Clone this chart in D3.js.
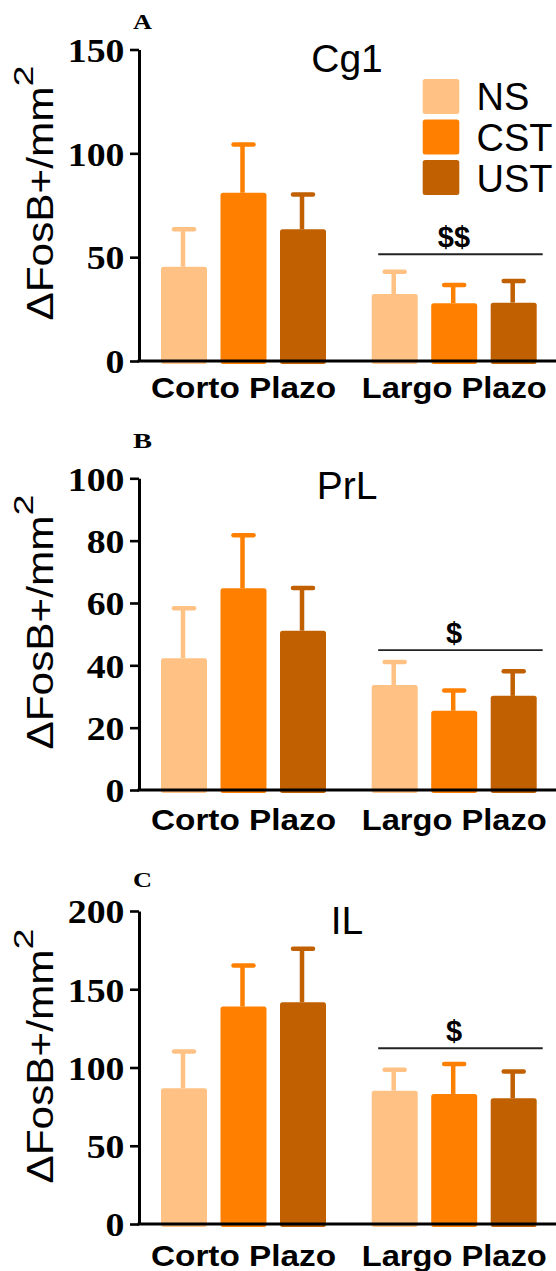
<!DOCTYPE html>
<html><head><meta charset="utf-8">
<script src="https://cdn.jsdelivr.net/npm/d3@7"></script>
<style>html,body{margin:0;padding:0;background:#fff;}svg{display:block;}</style>
</head><body>
<svg id="chart" width="556" height="1271"></svg>
<script>
// ---- data ----
const categories = ["Corto Plazo", "Largo Plazo"];
const series = ["NS", "CST", "UST"];
const regions = ["Cg1", "PrL", "IL"];
const panelLetters = ["A", "B", "C"];
const yMaxes = [150, 100, 200];
const tickValuesA = [0, 50, 100, 150];
const tickValuesB = [0, 20, 40, 60, 80, 100];
const tickValuesC = [0, 50, 100, 150, 200];
// means ordered: Corto NS, CST, UST, Largo NS, CST, UST
const cg1Means = [45.4, 81.0, 63.4, 32.3, 27.8, 28.1];
const cg1Errors = [18.0, 23.3, 16.8, 10.7, 8.8, 10.4];
const prlMeans = [42.3, 64.7, 51.1, 33.7, 25.4, 30.2];
const prlErrors = [16.0, 17.0, 13.7, 7.4, 6.5, 7.9];
const ilMeans = [86.7, 138.9, 141.7, 85.2, 83.1, 80.3];
const ilErrors = [23.5, 26.2, 34.1, 13.3, 19.2, 17.1];
const sigLabels = ["$$", "$", "$"];
const sigLevels = [51.4, 44.9, 112.3];

// ---- layout / style ----
const colors = {NS: "#FFC184", CST: "#FF8000", UST: "#C06000"};
const axisX = 139, plotRight = 556;
const panels = [
  {top: 49.5, bottom: 361, ticks: tickValuesA, means: cg1Means, errs: cg1Errors, letterY: 29, titleY: 72, xlabDy: 37},
  {top: 478.3, bottom: 790, ticks: tickValuesB, means: prlMeans, errs: prlErrors, letterY: 448, titleY: 499, xlabDy: 40},
  {top: 911, bottom: 1224, ticks: tickValuesC, means: ilMeans, errs: ilErrors, letterY: 887, titleY: 934, xlabDy: 42}
];

const svg = d3.select("#chart");
const x0 = d3.scaleBand().domain(categories).range([161, 161 + 2 * 210.7]).paddingInner(0).paddingOuter(0);
const x1 = d3.scaleBand().domain(series).range([0, 165]).paddingInner(0.227).paddingOuter(0);
const bw = x1.bandwidth();

panels.forEach((p, pi) => {
  const g = svg.append("g");
  const y = d3.scaleLinear().domain([0, yMaxes[pi]]).range([p.bottom, p.top]);
  const rows = [];
  categories.forEach((c, ci) => series.forEach((s, si) => {
    const k = ci * 3 + si;
    rows.push({cat: c, ser: s, mean: p.means[k], err: p.errs[k]});
  }));

  // bars
  g.selectAll("rect.bar").data(rows).join("rect")
    .attr("x", d => x0(d.cat) + x1(d.ser))
    .attr("y", d => y(d.mean))
    .attr("width", bw)
    .attr("height", d => y(0) - y(d.mean) + 3)
    .attr("rx", 2.5)
    .attr("fill", d => colors[d.ser]);
  // error stems
  g.selectAll("line.stem").data(rows).join("line")
    .attr("x1", d => x0(d.cat) + x1(d.ser) + bw / 2 - 1)
    .attr("x2", d => x0(d.cat) + x1(d.ser) + bw / 2 - 1)
    .attr("y1", d => y(d.mean))
    .attr("y2", d => y(d.mean + d.err))
    .attr("stroke", d => colors[d.ser]).attr("stroke-width", 4.5);
  g.selectAll("line.cap").data(rows).join("line")
    .attr("x1", d => x0(d.cat) + x1(d.ser) + bw / 2 - 10)
    .attr("x2", d => x0(d.cat) + x1(d.ser) + bw / 2 + 10)
    .attr("y1", d => y(d.mean + d.err))
    .attr("y2", d => y(d.mean + d.err))
    .attr("stroke", d => colors[d.ser]).attr("stroke-width", 4.5)
    .attr("stroke-linecap", "round");

  // axes
  const yAxis = d3.axisLeft(y).tickValues(p.ticks).tickSize(9).tickPadding(5).tickSizeOuter(0);
  const ya = g.append("g").attr("transform", `translate(${axisX},0)`).call(yAxis);
  ya.select(".domain").attr("stroke", "#000").attr("stroke-width", 3);
  ya.selectAll(".tick line").attr("stroke", "#000").attr("stroke-width", 2.6);
  ya.selectAll(".tick text")
    .attr("font-family", "'Liberation Serif', 'Times New Roman', serif")
    .attr("font-weight", "bold").attr("font-size", 34).attr("fill", "#000")
    .attr("dy", null).attr("y", 11.8).attr("x", -14.5)
    .attr("textLength", d => String(d).length * 18.9)
    .attr("lengthAdjust", "spacingAndGlyphs");

  const xAxis = d3.axisBottom(x0).tickSize(0).tickPadding(0);
  const xa = g.append("g").attr("transform", `translate(0,${p.bottom})`).call(xAxis);
  xa.select(".domain").attr("d", `M${axisX - 1.5},0H${plotRight}`).attr("stroke", "#000").attr("stroke-width", 3);
  xa.selectAll(".tick").attr("transform", d => `translate(${x0(d) + 82.5},0)`);
  xa.selectAll(".tick text")
    .attr("font-family", "'Liberation Sans', Arial, sans-serif")
    .attr("font-weight", "bold").attr("font-size", 29.5).attr("fill", "#000")
    .attr("dy", null).attr("y", p.xlabDy)
    .attr("textLength", 185).attr("lengthAdjust", "spacingAndGlyphs");

  // y label
  const yl = g.append("text")
    .attr("transform", `translate(53,${p.bottom - 40.5}) rotate(-90)`)
    .attr("font-family", "'Liberation Sans', Arial, sans-serif")
    .attr("fill", "#000");
  yl.append("tspan").attr("font-size", 37).attr("textLength", 234).attr("lengthAdjust", "spacingAndGlyphs").text("ΔFosB+/mm");
  yl.append("tspan").attr("font-size", 28).attr("dy", -20).attr("textLength", 21).attr("lengthAdjust", "spacingAndGlyphs").text("2");

  // panel letter
  g.append("text").attr("x", 133).attr("y", p.letterY)
    .attr("font-family", "'Liberation Serif', 'Times New Roman', serif")
    .attr("font-weight", "bold").attr("font-size", 21)
    .attr("textLength", 19).attr("lengthAdjust", "spacingAndGlyphs")
    .text(panelLetters[pi]);

  // title
  g.append("text").attr("x", 347).attr("y", p.titleY).attr("text-anchor", "middle")
    .attr("font-family", "'Liberation Sans', Arial, sans-serif").attr("font-size", 39)
    .text(regions[pi]);

  // significance
  const sx1 = x0(categories[1]) + x1(series[0]) + 6.5;
  const sx2 = x0(categories[1]) + x1(series[2]) + bw + 6;
  const sy = y(sigLevels[pi]);
  g.append("line").attr("x1", sx1).attr("x2", sx2).attr("y1", sy).attr("y2", sy)
    .attr("stroke", "#222").attr("stroke-width", 1.8);
  g.append("text").attr("x", (sx1 + sx2) / 2 - 6.5).attr("y", sy - 7).attr("text-anchor", "middle")
    .attr("font-family", "'Liberation Sans', Arial, sans-serif").attr("font-weight", "bold")
    .attr("font-size", 29).text(sigLabels[pi]);

  // legend (panel A only)
  if (pi === 0) {
    const lg = g.append("g");
    series.forEach((s, i) => {
      lg.append("rect").attr("x", 422.7).attr("y", 79 + i * 40.5).attr("width", 36.6).attr("height", 35)
        .attr("rx", 2.5).attr("fill", colors[s]);
      lg.append("text").attr("x", 476.5).attr("y", 110 + i * 40.8)
        .attr("font-family", "'Liberation Sans', Arial, sans-serif").attr("font-size", 38)
        .text(s);
    });
  }
});
</script>
</body></html>
